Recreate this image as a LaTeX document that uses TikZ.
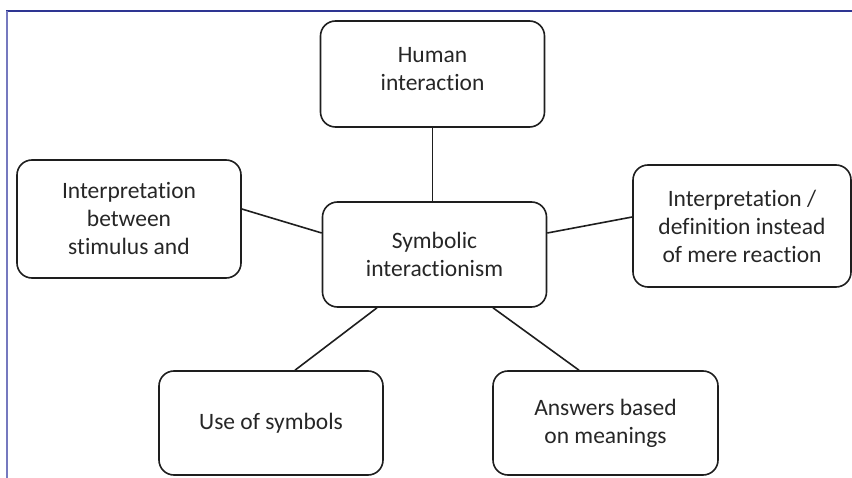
\documentclass[tikz,border=0pt]{standalone}
\usepackage{fontspec}
\setmainfont{Carlito}[Ligatures={NoCommon}]
\usetikzlibrary{positioning,shapes}
\usepackage{xcolor}
\definecolor{frametop}{HTML}{2E3592}
\definecolor{frameleft}{HTML}{7579BF}
\definecolor{boxline}{HTML}{1E1E1E}
\definecolor{boxtext}{HTML}{262626}

\begin{document}
\begin{tikzpicture}[x=1pt, y=-1pt]
		\useasboundingbox (0,0) rectangle (852,478);
		\draw[frametop, line width=2pt] (6,11) -- (852,11);
		\draw[frameleft, line width=2pt] (7,11) -- (7,478);
		\begin{scope}[every node/.style={draw=boxline, line width=1.6pt, rounded corners=15pt, align=center, text=boxtext, font=\fontsize{23.5}{28}\selectfont, minimum width=224pt, inner sep=0pt}]
			\node[minimum height=106pt, text depth=11pt] (hum) at (432.5,74) {Human\\interaction};
			\node[minimum height=105pt] (sym) at (434.5,254.5) {Symbolic\\interactionism};
			\node[minimum height=118pt] (stim) at (129,219) {Interpretation\\between\\stimulus and};
			\node[minimum height=122pt, minimum width=218pt] (defi) at (742,226) {Interpretation /\\definition instead\\of mere reaction};
			\node[minimum height=104pt] (symb) at (271,423) {Use of symbols};
			\node[minimum height=104pt, minimum width=225pt] (mean) at (605.5,423) {Answers based\\on meanings};
		\end{scope}
		\begin{scope}[every path/.style={draw=boxline, line width=1.6pt}]
			\path (hum.south) edge (hum.south |- sym.north);
			\path ([yshift=10pt]stim.east) edge ([yshift=21.5pt]sym.west);
			\path ([yshift=21.5pt]sym.east) edge ([yshift=9pt]defi.west);
			\path ([xshift=-57.5pt]sym.south) edge ([xshift=24pt]symb.north);
			\path ([xshift=58.5pt]sym.south) edge ([xshift=-26.5pt]mean.north);
		\end{scope}
	\end{tikzpicture}
\end{document}
